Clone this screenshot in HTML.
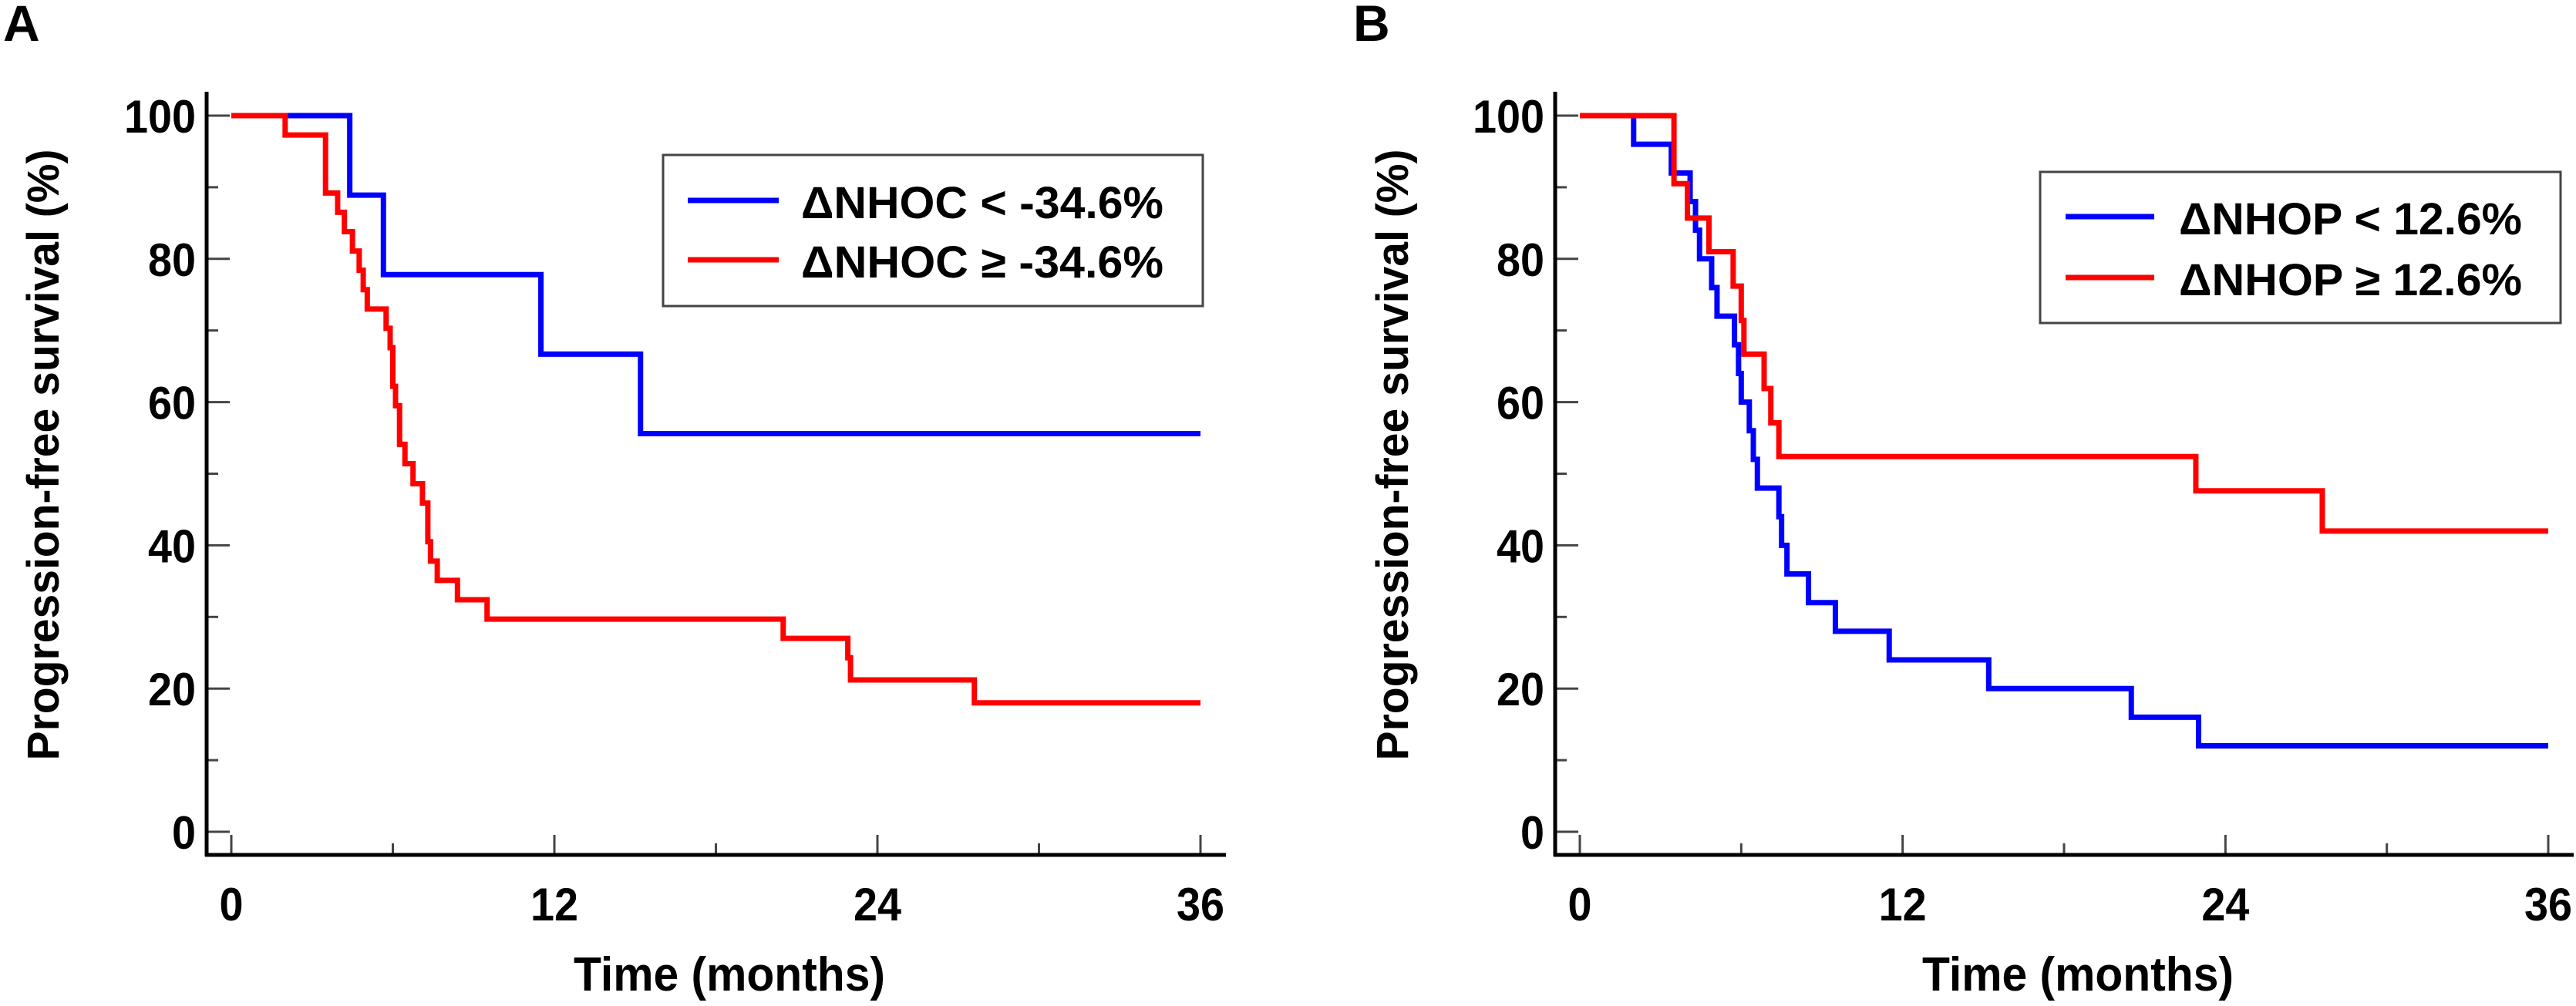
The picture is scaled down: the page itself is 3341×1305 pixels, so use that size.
<!DOCTYPE html>
<html><head><meta charset="utf-8"><style>
html,body{margin:0;padding:0;background:#fff;}
svg{display:block;font-family:"Liberation Sans",sans-serif;font-weight:bold;}
</style></head><body>
<svg id="fig" width="3341" height="1305" viewBox="0 0 3341 1305" xmlns="http://www.w3.org/2000/svg"></svg>
<script>
// ---- Data (months, survival %) ----
const xTicks = [0, 12, 24, 36];
const yTicks = [0, 20, 40, 60, 80, 100];
const aBlueTimes = [4.4, 5.65, 11.5, 15.2];
const aBlueVals  = [88.9, 77.8, 66.7, 55.6];
const aRedTimes = [2.0, 3.5, 3.95, 4.2, 4.5, 4.75, 4.9, 5.05, 5.75, 5.9, 6.0, 6.1, 6.25, 6.45, 6.75, 7.1, 7.3, 7.4, 7.65, 8.4, 9.5, 20.5, 22.9, 23.0, 27.6];
const aRedVals  = [97.3, 89.2, 86.5, 83.8, 81.1, 78.4, 75.7, 73.0, 70.3, 67.6, 62.2, 59.5, 54.1, 51.4, 48.6, 45.9, 40.5, 37.8, 35.1, 32.4, 29.7, 27.0, 24.3, 21.2, 18.0];
const bBlueTimes = [2.0, 3.4, 4.1, 4.3, 4.45, 4.9, 5.1, 5.75, 5.9, 6.0, 6.3, 6.45, 6.6, 7.4, 7.5, 7.7, 8.5, 9.5, 11.5, 15.2, 20.5, 23.0];
const bBlueVals  = [96, 92, 88, 84, 80, 76, 72, 68, 64, 60, 56, 52, 48, 44, 40, 36, 32, 28, 24, 20, 16, 12];
const bRedTimes = [3.5, 4.0, 4.8, 5.7, 6.0, 6.1, 6.85, 7.1, 7.4, 22.9, 27.6];
const bRedVals  = [90.5, 85.7, 81.0, 76.2, 71.4, 66.7, 61.9, 57.1, 52.4, 47.6, 42.0];
const legendA = ["ΔNHOC < -34.6%", "ΔNHOC ≥ -34.6%"];
const legendB = ["ΔNHOP < 12.6%", "ΔNHOP ≥ 12.6%"];

const NS = "http://www.w3.org/2000/svg";
const svg = document.getElementById("fig");
function mk(tag, attrs, parent) {
  const e = document.createElementNS(NS, tag);
  for (const k in attrs) e.setAttribute(k, attrs[k]);
  (parent || svg).appendChild(e);
  return e;
}

function panel(cfg) {
  const g = mk("g", {});
  
  
  const X = t => cfg.x0 + (t / 36) * (cfg.x36 - cfg.x0);
  const Y = v => 1079 - (v / 100) * (1079 - 150);
  const axX = cfg.axisX, axY = 1109;

  // panel letter
  const L = mk("text", {x: cfg.letterX, y: 53, "font-size": 66}, g);
  L.textContent = cfg.letter;
  
  

  // ticks
  for (let v = 0; v <= 100; v += 10) {
    const major = v % 20 === 0;
    const t = mk("line", {x1: axX, x2: axX + (major ? 30 : 15), y1: Y(v), y2: Y(v), stroke: "#444", "stroke-width": 3}, g);
    
    
  }
  for (let m = 0; m <= 36; m += 6) {
    const major = m % 12 === 0;
    const t = mk("line", {x1: X(m), x2: X(m), y1: axY, y2: axY - (major ? 26 : 15), stroke: "#444", "stroke-width": 3}, g);
    
    
  }
  // axes
  const ya = mk("line", {x1: axX, x2: axX, y1: 119, y2: axY + 2, stroke: "#000", "stroke-width": 5}, g);
  
  
  const xa = mk("line", {x1: axX - 2, x2: cfg.axisEnd, y1: axY, y2: axY, stroke: "#000", "stroke-width": 5}, g);
  
  

  // tick labels
  yTicks.forEach(v => {
    const s = String(v);
    const t = mk("text", {x: axX - 14, y: Y(v) + 22, "font-size": 60, "text-anchor": "end", textLength: 31 * s.length, lengthAdjust: "spacingAndGlyphs"}, g);
    t.textContent = s;
    
    
  });
  xTicks.forEach(m => {
    const s = String(m);
    const t = mk("text", {x: X(m), y: 1194, "font-size": 60, "text-anchor": "middle", textLength: 31 * s.length, lengthAdjust: "spacingAndGlyphs"}, g);
    t.textContent = s;
    
    
  });

  // axis titles
  const xt = mk("text", {x: cfg.xTitleX, y: 1285, "font-size": 62, "text-anchor": "middle", textLength: 404, lengthAdjust: "spacingAndGlyphs"}, g);
  xt.textContent = "Time (months)";
  
  
  const yt = mk("text", {x: 0, y: 0, "font-size": 58, "text-anchor": "middle", textLength: 793, lengthAdjust: "spacingAndGlyphs",
    transform: `translate(${cfg.yTitleX},590) rotate(-90)`}, g);
  yt.textContent = "Progression-free survival (%)";
  
  

  // curves
  function curve(times, vals, color, name) {
    let d = `M${X(0)},${Y(100)}`;
    for (let i = 0; i < times.length; i++) {
      d += ` H${X(times[i])} V${Y(vals[i])}`;
    }
    d += ` H${X(36)}`;
    const p = mk("path", {d: d, fill: "none", stroke: color, "stroke-width": 7, "stroke-linejoin": "miter", "stroke-linecap": "butt"}, g);
    
    
  }
  curve(cfg.blueT, cfg.blueV, "#0000ff", "blue-curve");
  curve(cfg.redT, cfg.redV, "#ff0000", "red-curve");

  // legend
  const lg = mk("g", {}, g);
  
  
  const lb = cfg.leg;
  const box = mk("rect", {x: lb.x, y: lb.y, width: lb.w, height: lb.h, fill: "#fff", stroke: "#444", "stroke-width": 3}, lg);
  
  
  [["#0000ff", 0], ["#ff0000", 1]].forEach(([c, i]) => {
    const ly = lb.ly[i];
    const ln = mk("line", {x1: lb.lx1, x2: lb.lx2, y1: ly, y2: ly, stroke: c, "stroke-width": 7}, lg);
    
    
    const tx = mk("text", {x: lb.tx, y: ly + 23, "font-size": 58, textLength: lb.tw, lengthAdjust: "spacingAndGlyphs"}, lg);
    tx.textContent = cfg.labels[i];
    
    
  });
}

panel({id: "panel-a", letter: "A", letterX: 4, x0: 300, x36: 1557, axisX: 268, axisEnd: 1590,
  xTitleX: 946, yTitleX: 76, blueT: aBlueTimes, blueV: aBlueVals, redT: aRedTimes, redV: aRedVals, labels: legendA,
  leg: {x: 860, y: 201, w: 700, h: 196, lx1: 892, lx2: 1010, ly: [260, 337], tx: 1039, tw: 470}});
panel({id: "panel-b", letter: "B", letterX: 1755, x0: 2049, x36: 3305, axisX: 2017, axisEnd: 3338,
  xTitleX: 2695, yTitleX: 1826, blueT: bBlueTimes, blueV: bBlueVals, redT: bRedTimes, redV: bRedVals, labels: legendB,
  leg: {x: 2646, y: 223, w: 675, h: 196, lx1: 2679, lx2: 2794, ly: [281, 360], tx: 2826, tw: 445}});
</script>
</body></html>
